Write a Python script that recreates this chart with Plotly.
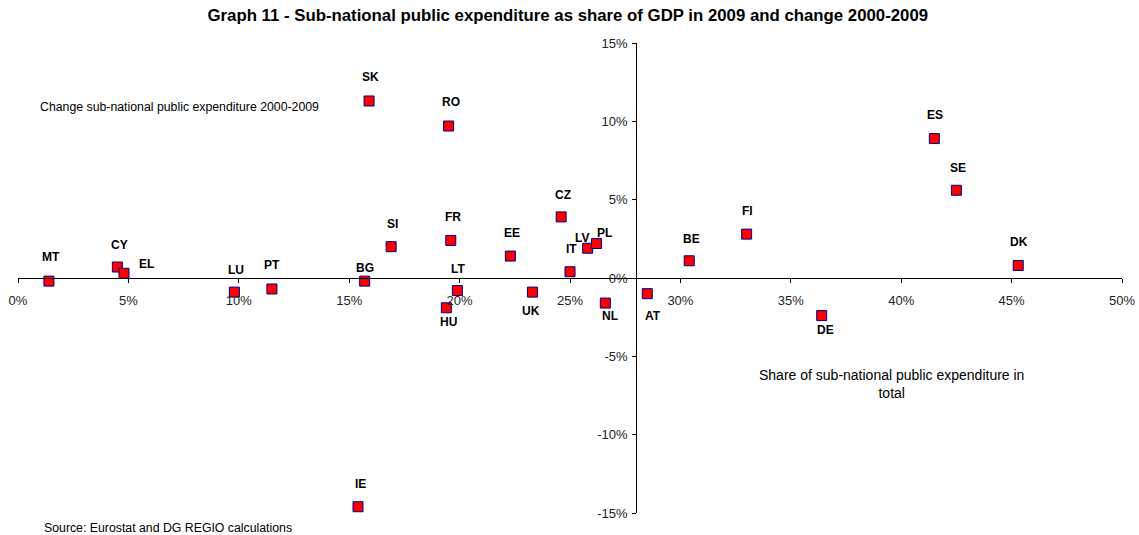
import plotly.graph_objects as go

# ---- data ----
countries = ["MT", "CY", "EL", "LU", "PT", "BG", "SK", "IE", "SI", "RO", "HU", "FR", "LT",
             "EE", "UK", "CZ", "IT", "LV", "PL", "NL", "AT", "BE", "FI", "DE", "ES", "SE", "DK"]
share_2009 = [1.4, 4.5, 4.8, 9.8, 11.5, 15.7, 15.9, 15.4, 16.9, 19.5, 19.4, 19.6, 19.9,
              22.3, 23.3, 24.6, 25.0, 25.8, 26.2, 26.6, 28.5, 30.4, 33.0, 36.4, 41.5, 42.5, 45.3]
change_2000_2009 = [-0.2, 0.7, 0.3, -0.9, -0.7, -0.2, 11.3, -14.6, 2.0, 9.7, -1.9, 2.4, -0.8,
                    1.4, -0.9, 3.9, 0.4, 1.9, 2.2, -1.6, -1.0, 1.1, 2.8, -2.4, 8.9, 5.6, 0.8]

x_ticks = [0, 5, 10, 15, 20, 25, 30, 35, 40, 45, 50]
x_tick_labels = ["0%", "5%", "10%", "15%", "20%", "25%", "30%", "35%", "40%", "45%", "50%"]
y_ticks = [-15, -10, -5, 0, 5, 10, 15]
y_tick_labels = ["-15%", "-10%", "-5%", "0%", "5%", "10%", "15%"]

# ---- layout parameters ----
X_RANGE = [0, 50]
Y_RANGE = [-15, 15]
Y_AXIS_CROSS_X = 28   # value of x where the vertical axis crosses
X_AXIS_CROSS_Y = 0    # value of y where the horizontal axis crosses

FIG_W, FIG_H = 1139, 535

# label offsets in pixels (dx, dy; dy positive = up)
label_offsets = {
    "MT": (2, 24), "CY": (2, 22), "EL": (23, 9), "LU": (2, 22), "PT": (0, 24),
    "BG": (0, 13), "SI": (1, 23), "FR": (2, 23), "LT": (1, 22), "HU": (2, -14),
    "EE": (2, 23), "UK": (-1, -19), "CZ": (2, 22), "IT": (1, 23), "LV": (-6, 10),
    "PL": (8, 11), "NL": (5, -13), "AT": (6, -22), "BE": (2, 22), "FI": (1, 23),
    "ES": (1, 24), "SE": (2, 22), "DK": (1, 23), "DE": (4, -14), "SK": (1, 24),
    "RO": (2, 24), "IE": (2, 23),
}

FONT = "Arial, Liberation Sans, sans-serif"

fig = go.Figure()
fig.add_trace(go.Scatter(
    x=share_2009, y=change_2000_2009, mode="markers",
    marker=dict(symbol="square", size=10, color="#FF0000",
                line=dict(color="#000080", width=1)),
    text=countries, hoverinfo="text+x+y", showlegend=False,
))

annotations = []
for c, xv, yv in zip(countries, share_2009, change_2000_2009):
    dx, dy = label_offsets[c]
    annotations.append(dict(
        x=xv, y=yv, xref="x", yref="y", text="<b>%s</b>" % c, showarrow=False,
        xshift=dx, yshift=dy, xanchor="center", yanchor="middle",
        font=dict(family=FONT, size=12, color="black"),
    ))

annotations += [
    dict(x=0.0181, y=0.8638, xref="paper", yref="paper", showarrow=False,
         xanchor="left", yanchor="middle",
         text="Change sub-national public expenditure 2000-2009",
         font=dict(family=FONT, size=12.3, color="black")),
    dict(x=0.7912, y=0.2745, xref="paper", yref="paper", showarrow=False,
         xanchor="center", yanchor="middle", align="center",
         text="Share of sub-national public expenditure in<br>total",
         font=dict(family=FONT, size=14, color="black")),
    dict(x=0.0215, y=-0.0326, xref="paper", yref="paper", showarrow=False,
         xanchor="left", yanchor="middle",
         text="Source: Eurostat and DG REGIO calculations",
         font=dict(family=FONT, size=12.3, color="black")),
]

fig.update_layout(
    width=FIG_W, height=FIG_H,
    margin=dict(l=18, r=17, t=43, b=22, autoexpand=False),
    paper_bgcolor="white", plot_bgcolor="white",
    title=dict(text="<b>Graph 11 - Sub-national public expenditure as share of GDP in 2009 and change 2000-2009</b>",
               x=0.498, xanchor="center", xref="paper",
               y=1 - 15 / FIG_H, yanchor="middle", yref="container",
               font=dict(family=FONT, size=16.8, color="black")),
    xaxis=dict(range=X_RANGE, tickvals=x_ticks, ticktext=x_tick_labels,
               showgrid=False, zeroline=False, showline=True, linecolor="black", linewidth=1,
               ticks="outside", ticklen=4, tickcolor="black",
               anchor="free", automargin=False,
               position=(X_AXIS_CROSS_Y - Y_RANGE[0]) / (Y_RANGE[1] - Y_RANGE[0]),
               tickfont=dict(family=FONT, size=13, color="#222"),
               ticklabelstandoff=6, fixedrange=True),
    yaxis=dict(range=Y_RANGE, tickvals=y_ticks, ticktext=y_tick_labels,
               showgrid=False, zeroline=False, showline=True, linecolor="black", linewidth=1,
               ticks="outside", ticklen=4, tickcolor="black",
               anchor="free", automargin=False,
               position=(Y_AXIS_CROSS_X - X_RANGE[0]) / (X_RANGE[1] - X_RANGE[0]),
               tickfont=dict(family=FONT, size=13, color="#222"),
               ticklabelstandoff=2, fixedrange=True),
    annotations=annotations,
)

# remove the default 8px page margin so the figure fills the window exactly
fig.write_html("out.html", config={"displayModeBar": False},
               post_script="document.body.style.margin='0px';")
